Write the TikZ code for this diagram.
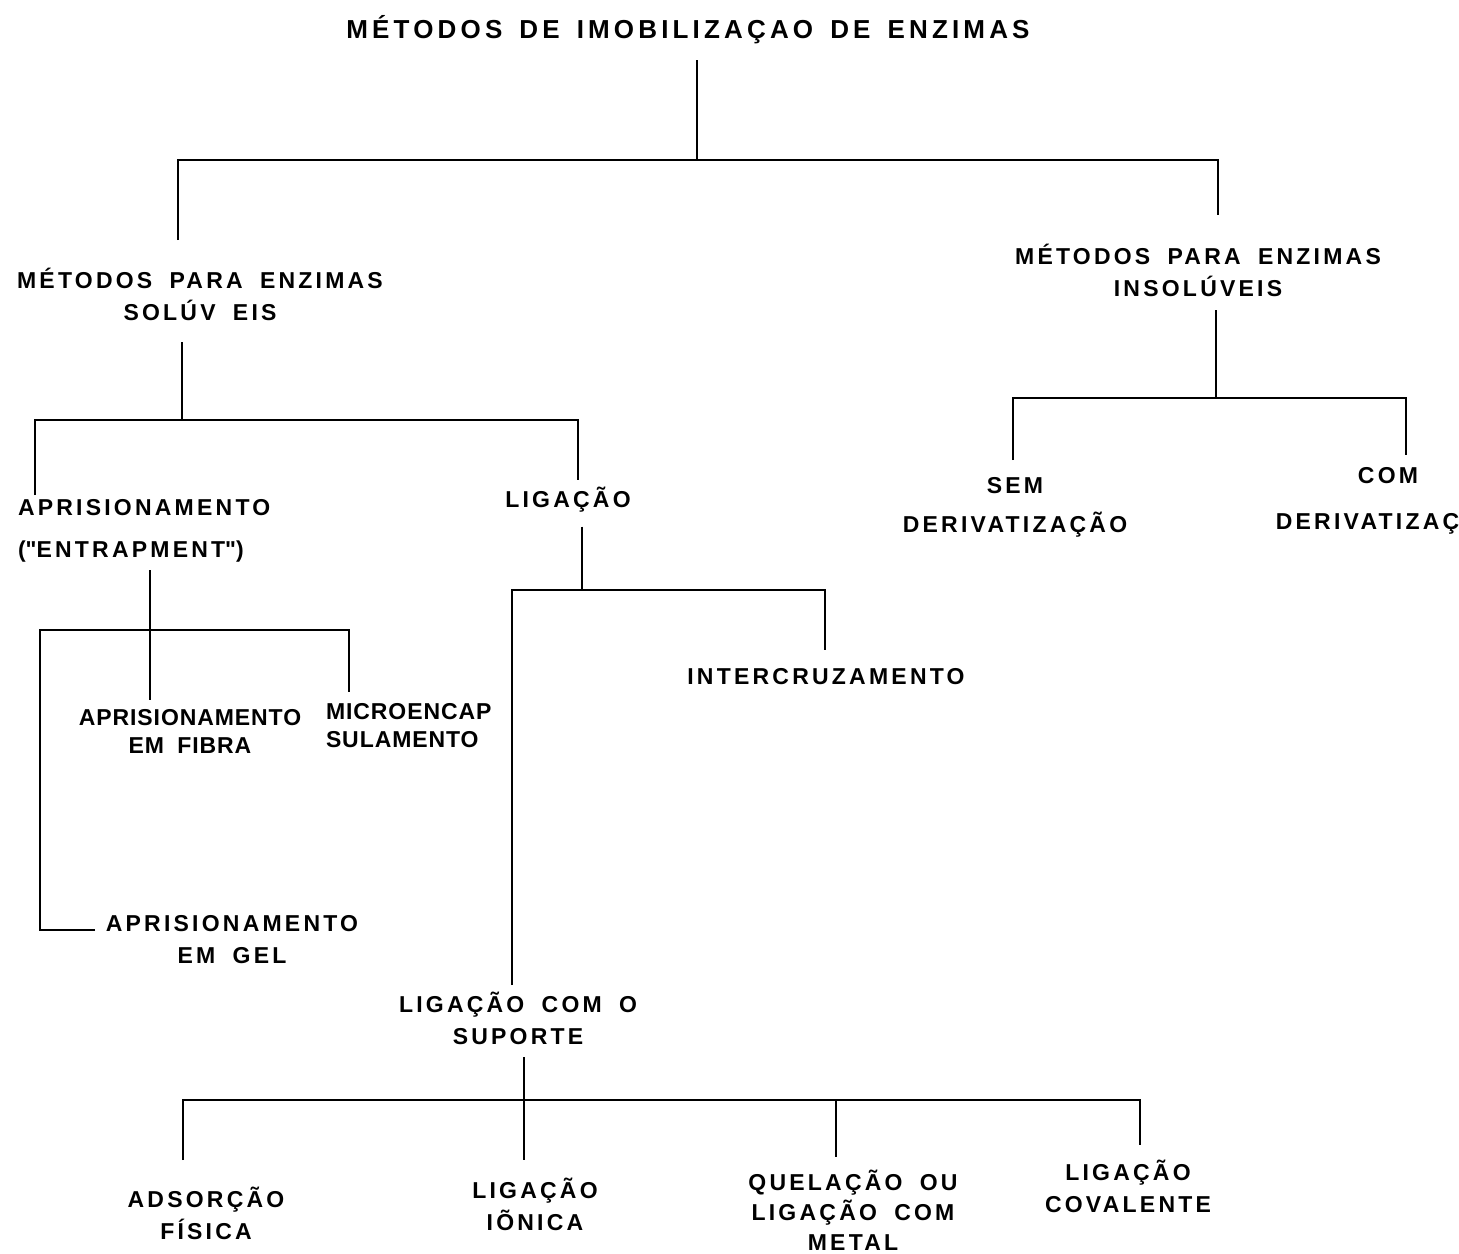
\documentclass[tikz,border=0pt]{standalone}
\usepackage{fontspec}
\newfontfamily\lblfont[LetterSpace=14, WordSpace=1.8]{Liberation Sans}
\newfontfamily\tightfont[LetterSpace=4, WordSpace=1.8]{Liberation Sans}
\newfontfamily\ttlfont[LetterSpace=16, WordSpace=1.5]{Liberation Sans}
\usetikzlibrary{positioning,calc}

\begin{document}
\begin{tikzpicture}[x=1pt, y=-1pt, line width=1.6pt]
\tikzstyle{every node}=[inner sep=0pt, outer sep=0pt]
\tikzstyle{lbl}=[font=\lblfont\bfseries\fontsize{23}{32}\selectfont, align=center]
\tikzstyle{tight}=[font=\tightfont\bfseries\fontsize{23}{28}\selectfont, align=center]
\tikzstyle{ttl}=[font=\ttlfont\bfseries\fontsize{26}{30}\selectfont]
\clip (0,0) rectangle (1459,1253);

% labels
\node[ttl]    (root) at (688,30)   {MÉTODOS DE IMOBILIZAÇAO DE ENZIMAS};
\node[lbl]    (sol)  at (200,294)  {MÉTODOS PARA ENZIMAS\\SOLÚV EIS};
\node[lbl]    (ins)  at (1198,270) {MÉTODOS PARA ENZIMAS\\INSOLÚVEIS};
\node[lbl, align=left, anchor=west] (apr) at (18,531) {APRISIONAMENTO\\[10pt](\textquotedbl ENTRAPMENT\textquotedbl)};
\node[lbl]    (lig)  at (568,500)  {LIGAÇÃO};
\node[tight]  (fib)  at (190,731)  {APRISIONAMENTO\\EM FIBRA};
\node[tight, align=left, anchor=west] (mic) at (326,726) {MICROENCAP\\SULAMENTO};
\node[lbl]    (gel)  at (232,940)  {APRISIONAMENTO\\EM GEL};
\node[lbl]    (intc) at (826,677)  {INTERCRUZAMENTO};
\node[lbl]    (sup)  at (518,1018) {LIGAÇÃO COM O\\SUPORTE};
\node[lbl]    (sem)  at (1015,507) {SEM\\[7pt]DERIVATIZAÇÃO};
\node[lbl]    (com)  at (1388,501) {COM\\[14pt]DERIVATIZAÇÃO};
\node[lbl]    (ads)  at (206,1213) {ADSORÇÃO\\FÍSICA};
\node[lbl]    (ion)  at (535,1204) {LIGAÇÃO\\IÕNICA};
\node[lbl]    (que)  at (853,1210) {QUELAÇÃO OU\\[-2pt]LIGAÇÃO COM\\[-2pt]METAL};
\node[lbl]    (cov)  at (1128,1186) {LIGAÇÃO\\COVALENTE};

% junctions and line ends
\coordinate (j0) at (697,160);
\coordinate (j1) at (182,420);
\coordinate (j2) at (582,590);
\coordinate (j3) at (150,630);
\coordinate (j4) at (1216,398);
\coordinate (j5) at (524,1100);
\coordinate (sol-t)  at (178,240);
\coordinate (ins-t)  at (1218,215);
\coordinate (apr-t)  at (35,495);
\coordinate (lig-t)  at (578,480);
\coordinate (fib-t)  at (150,700);
\coordinate (mic-t)  at (349,692);
\coordinate (gel-l)  at (95,930);
\coordinate (intc-t) at (825,650);
\coordinate (sup-t)  at (512,985);
\coordinate (sem-t)  at (1013,460);
\coordinate (com-t)  at (1406,455);
\coordinate (ads-t)  at (183,1160);
\coordinate (ion-t)  at (524,1160);
\coordinate (que-t)  at (836,1157);
\coordinate (cov-t)  at (1140,1145);

% tree lines
\draw (j0 |- root.south) ++(0,16) -- (j0);
\draw (sol-t) |- (j0) -| (ins-t);
\draw (j1 |- sol.south) ++(0,22) -- (j1);
\draw (apr-t) |- (j1) -| (lig-t);
\draw (j2 |- lig.south) ++(0,14) -- (j2);
\draw (sup-t) |- (j2) -| (intc-t);
\draw (j3 |- apr.south) ++(0,8) -- (fib-t);
\draw (gel-l) -| (40,630) -- (j3) -| (mic-t);
\draw (j4 |- ins.south) ++(0,14) -- (j4);
\draw (sem-t) |- (j4) -| (com-t);
\draw (j5 |- sup.south) ++(0,13) -- (ion-t);
\draw (ads-t) |- (j5) -| (que-t);
\draw (que-t |- j5) -| (cov-t);
\end{tikzpicture}
\end{document}
